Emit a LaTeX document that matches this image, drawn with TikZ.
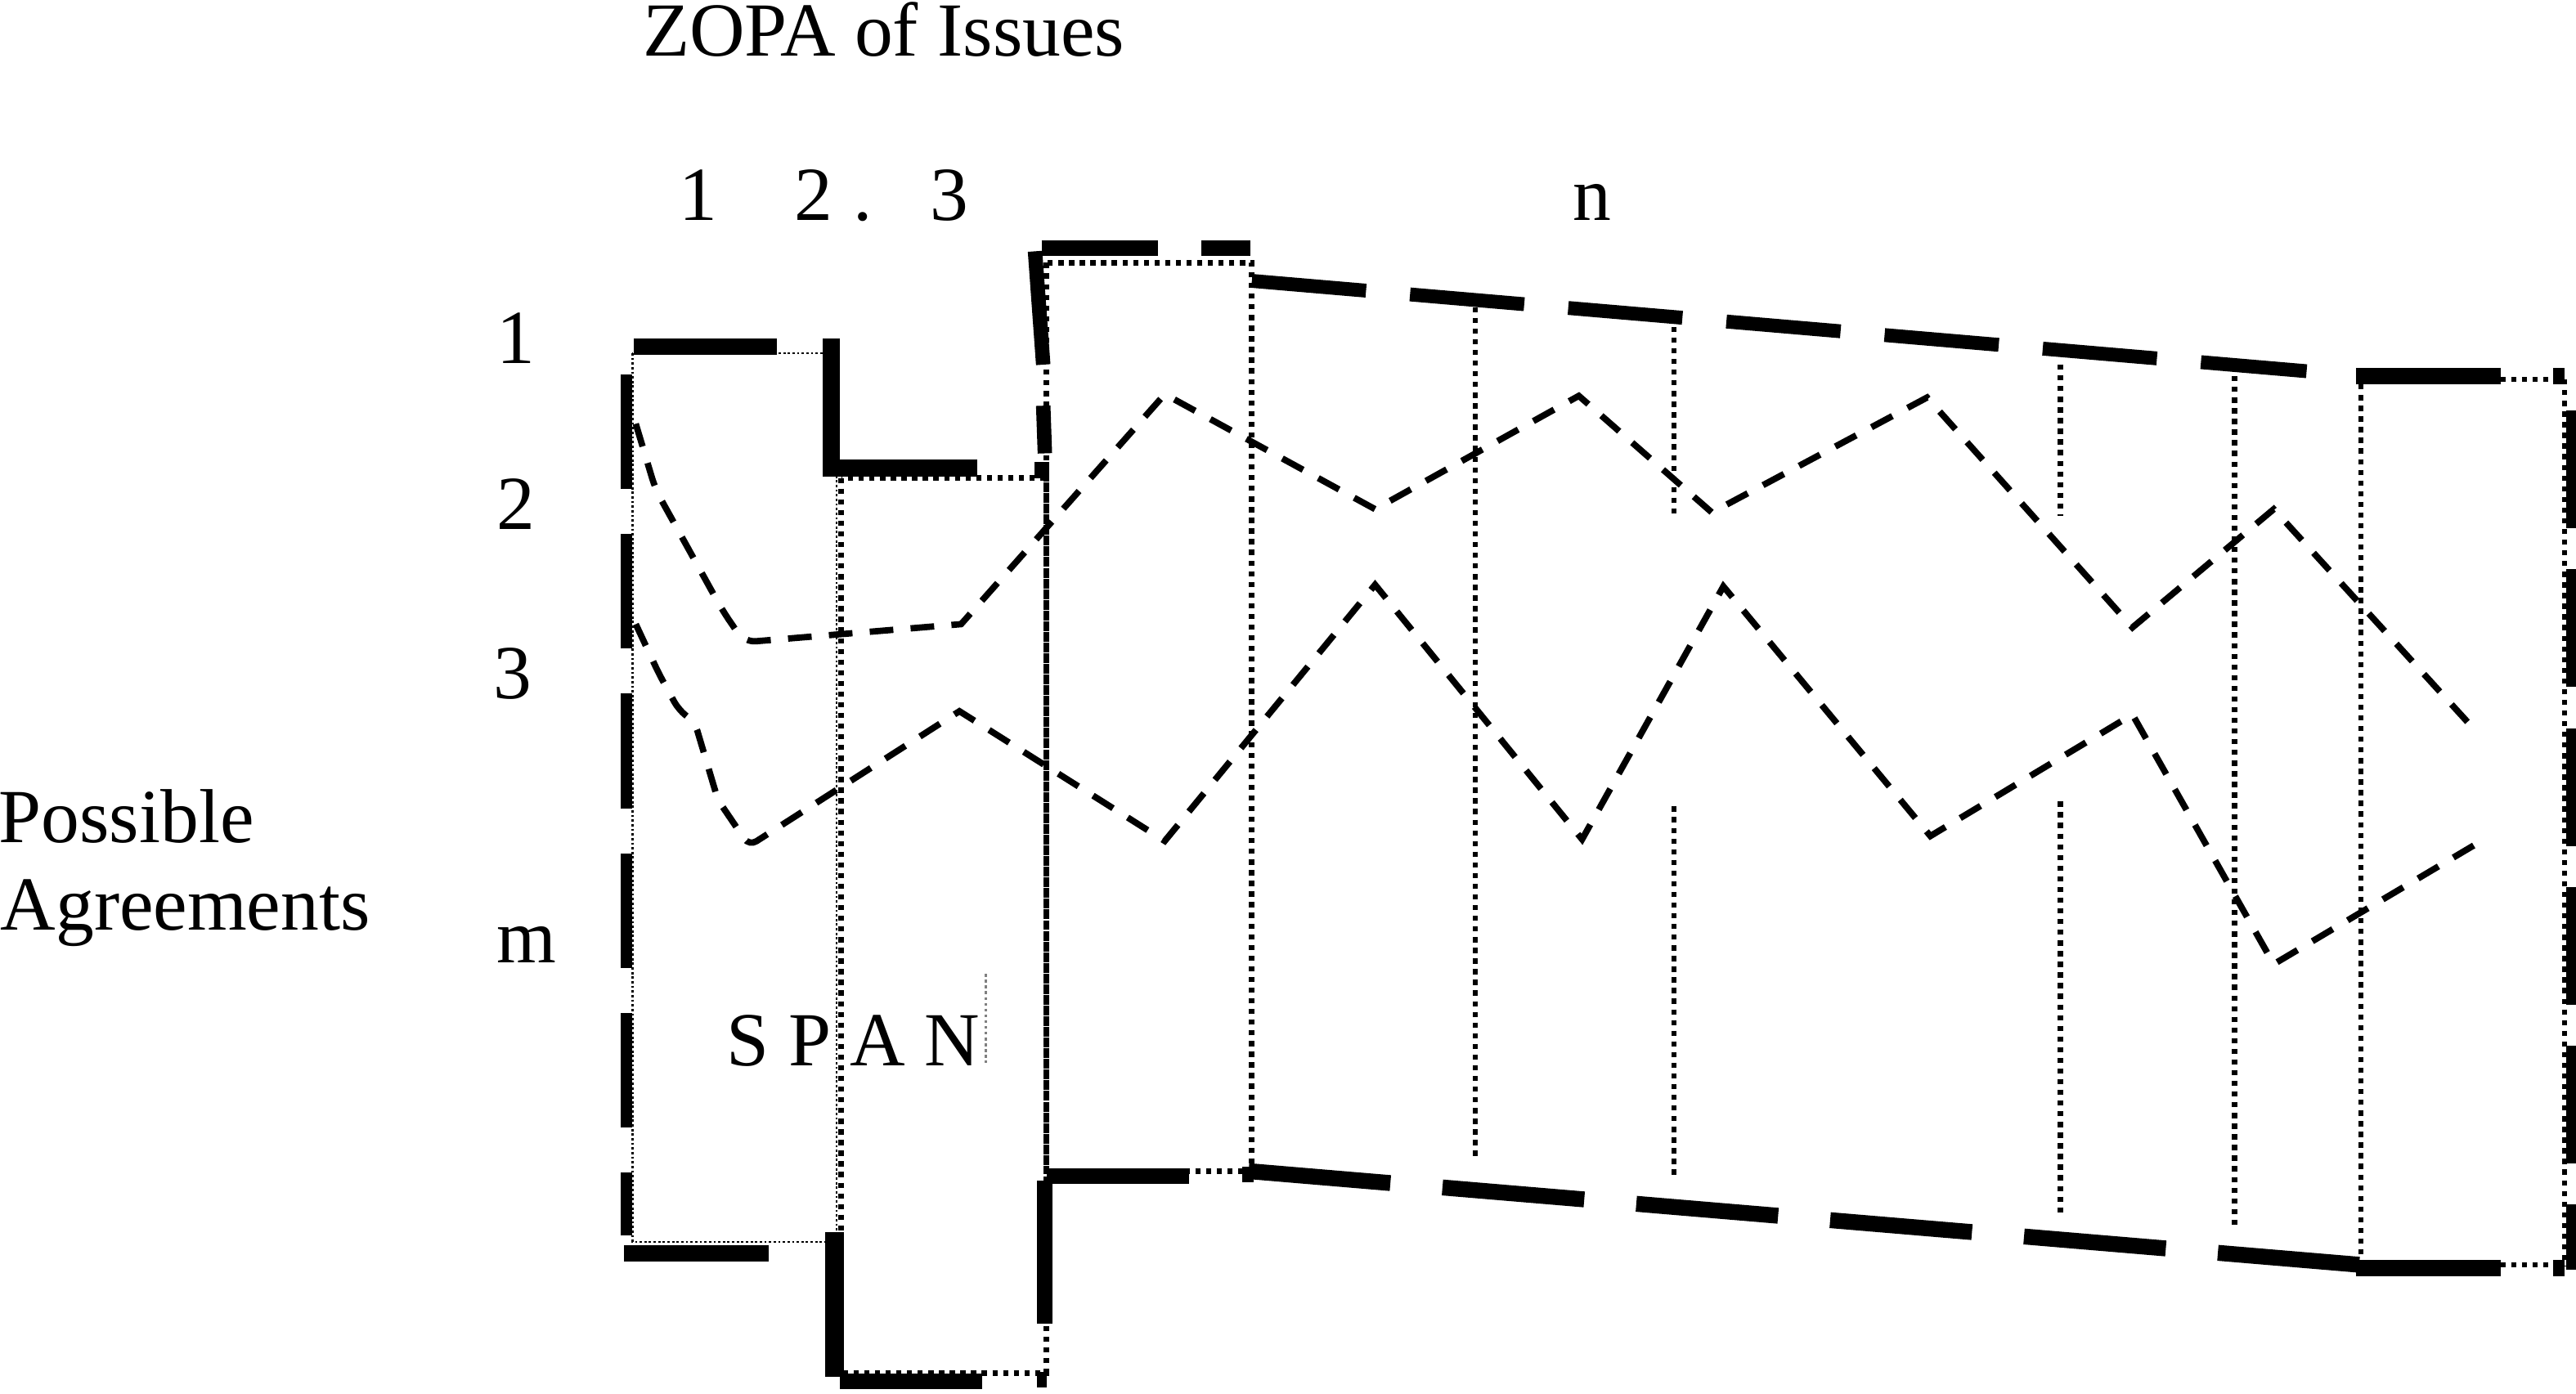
\documentclass[tikz,border=0pt]{standalone}
\usepackage{fontspec}
\setmainfont{Liberation Serif}
\usetikzlibrary{calc}
\tikzset{thk/.style = {line width=5.5pt}}
\tikzset{fine/.style = {line width=0.6pt, dash pattern=on 0.8pt off 0.8pt}}
\tikzset{dots/.style = {line width=1.9pt, dash pattern=on 1.8pt off 1.9pt}}
\tikzset{zig/.style = {line width=2.2pt, dash pattern=on 8.2pt off 6pt}}
\tikzset{lbl/.style = {inner sep=0pt, anchor=base west, font=\fontsize{26.5}{30}\selectfont}}

\begin{document}
\begin{tikzpicture}[x=0.02cm, y=-0.02cm]
    \useasboundingbox (0,0) rectangle (1568,848.7);

    % texts
    \node[lbl] (title) at (391,34) {ZOPA of Issues};
    \node[lbl] (i1) at (413,134) {1};
    \node[lbl] (i2) at (483,134) {2};
    \node[lbl] (idot) at (519,134) {.};
    \node[lbl] (i3) at (566,134) {3};
    \node[lbl] (in) at (957,134) {n};
    \node[lbl] (a1) at (302,221.5) {1};
    \node[lbl] (a2) at (302,322.5) {2};
    \node[lbl] (a3) at (300,425.5) {3};
    \node[lbl] (am) at (302,586) {m};
    \node[lbl] (poss) at (-1,513) {Possible};
    \node[lbl] (agr) at (0,566) {Agreements};
    \node[lbl] (span) at (442,649) {S P A N};
    \draw[gray, line width=0.8pt, dash pattern=on 1pt off 1pt] (600,593) -- (600,647);

    % column 1
    \draw[fine] (385,215) rectangle (509,756);
    \draw[thk] (386,211) -- (473,211);
    \draw[thk, line width=4pt, dash pattern=on 39.7pt off 15.6pt] (381.5,228) -- (381.5,752);
    \draw[thk] (380,763) -- (468,763);
    \draw[thk, line width=6pt] (506,206) -- (506,285) -- (595,285);

    % column 2
    \draw[dots] (512,291) rectangle (637,836);
    \draw[thk, line width=6.5pt] (508,750) -- (508,838);
    \draw[thk] (511,841) -- (598,841);
    \draw[thk] (631,840) -- (637,840);

    % column 3
    \draw[dots] (637,160) rectangle (762,713);
    \draw[thk] (634,151) -- (705,151);
    \draw[thk] (731,151) -- (761,151);
    \draw[thk, line width=5pt] (630,153) -- (635,222);
    \draw[thk, line width=5pt] (635,247) -- (636,276);
    \draw[thk, line width=5pt] (634,281) -- (634,291);
    \draw[thk, line width=5.5pt] (636,719) -- (636,806);
    \draw[thk] (637,716) -- (724,716);
    \draw[thk] (756,715) -- (763,715);

    % issues up to n
    \draw[thk, line width=4.8pt, dash pattern=on 39.7pt off 15.3pt] (762,171) -- (1404,226);
    \draw[thk, line width=5.5pt, dash pattern=on 49.3pt off 18.1pt] (760,713) -- (1436,770);
    \foreach \x/\a/\b in {898/187/704, 1019/199/314, 1019/491/717, 1254/222/314,
                          1254/488/738, 1360/229/746, 1437/234/768}
        \draw[dots] (\x,\a) -- (\x,\b);

    % column n
    \draw[thk] (1434,229) -- (1522,229);
    \draw[dots] (1522,231) -- (1555,231);
    \draw[thk] (1554,229) -- (1561,229);
    \draw[thk] (1434,772) -- (1522,772);
    \draw[dots] (1522,770) -- (1555,770);
    \draw[thk] (1554,772) -- (1561,772);
    \draw[dots] (1561,231) -- (1561,771);
    \draw[thk, line width=4.5pt, dash pattern=on 40.8pt off 14.2pt] (1566,250) -- (1566,773);

    % agreement paths
    \draw[zig] (387,258) [rounded corners=4pt] -- (399,298) -- (440,372) -- (453,391)
        [sharp corners] -- (585,380) -- (709,240) -- (837,310) -- (961,241) -- (1042,312)
        -- (1173,242) -- (1298,382) -- (1384,310) -- (1506,444);
    \draw[zig] (387,380) [rounded corners=3pt] -- (401,410) -- (413,432) -- (423,440)
        -- (437,487) -- (456,515) [sharp corners] -- (584,433) -- (709,512) -- (837,356)
        -- (963,511) -- (1049,357) -- (1175,509) -- (1298,435) -- (1384,587) -- (1512,511);
\end{tikzpicture}
\end{document}
